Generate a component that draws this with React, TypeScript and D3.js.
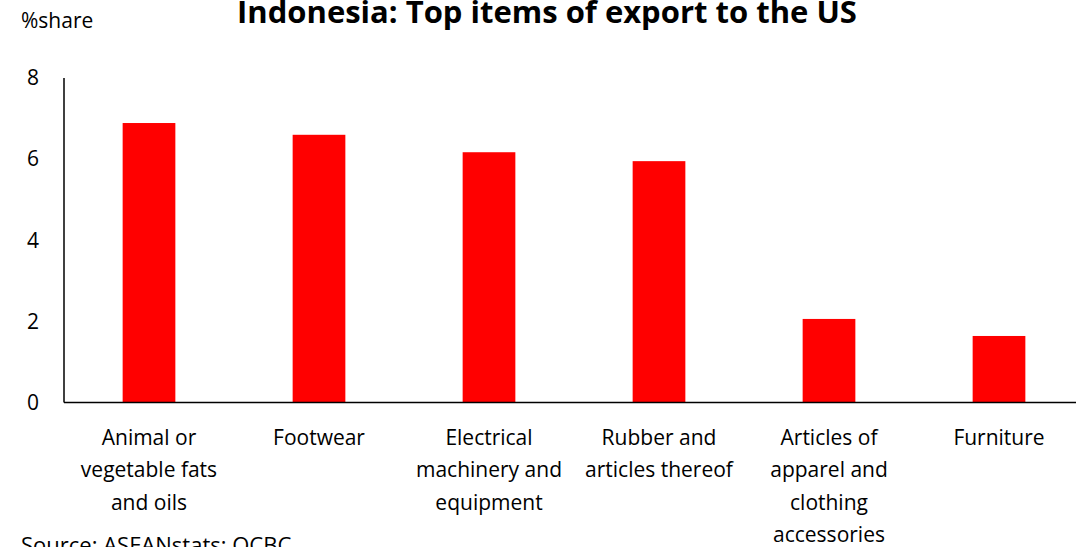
import React from "react";
import * as d3 from "d3";

const categories: string[][] = [
  ["Animal or", "vegetable fats", "and oils"],
  ["Footwear"],
  ["Electrical", "machinery and", "equipment"],
  ["Rubber and", "articles thereof"],
  ["Articles of", "apparel and", "clothing", "accessories"],
  ["Furniture"],
];
const values: number[] = [6.89, 6.6, 6.17, 5.95, 2.06, 1.64];
const yTicks: number[] = [0, 2, 4, 6, 8];

const W = 1076;
const H = 547;
const FONT = "'Open Sans', 'Noto Sans', sans-serif";

export default function App() {
  const left = 64;
  const ids = categories.map((_, i) => String(i));
  const x = d3
    .scaleBand<string>()
    .domain(ids)
    .range([left, left + 6 * 170])
    .paddingInner(0.69)
    .paddingOuter(0.345);
  const y = d3.scaleLinear().domain([0, 8]).range([402.5, 78]);

  return (
    <div style={{ position: "absolute", left: 0, top: 0 }}>
      <svg width={W} height={H} style={{ display: "block", fontFamily: FONT }}>
        <rect width={W} height={H} fill="#fff" />
        <text x={547} y={23} textAnchor="middle" fontWeight="bold" fontSize={31} fill="#000">
          Indonesia: Top items of export to the US
        </text>
        <text x={21} y={28} fontSize={21} fill="#000">%share</text>
        {values.map((v, i) => (
          <rect
            key={i}
            x={x(ids[i])!}
            width={x.bandwidth()}
            y={y(v)}
            height={y(0) - y(v)}
            fill="#FF0000"
          />
        ))}
        <line x1={left} x2={left} y1={y(8)} y2={y(0)} stroke="#000" strokeWidth={1.5} />
        <line x1={left} x2={W} y1={y(0)} y2={y(0)} stroke="#000" strokeWidth={1.5} />
        {yTicks.map((t) => (
          <text key={t} x={39} y={y(t)} dy="0.35em" textAnchor="end" fontSize={21} fill="#000">
            {t}
          </text>
        ))}
        {categories.map((lines, i) => {
          const cx = x(ids[i])! + x.bandwidth() / 2;
          return (
            <text key={i} textAnchor="middle" fontSize={21} fill="#000">
              {lines.map((l, j) => (
                <tspan key={j} x={cx} y={445 + j * 32.3}>
                  {l}
                </tspan>
              ))}
            </text>
          );
        })}
        <text x={21} y={553} fontSize={22} fill="#000">Source: ASEANstats; OCBC</text>
      </svg>
    </div>
  );
}
